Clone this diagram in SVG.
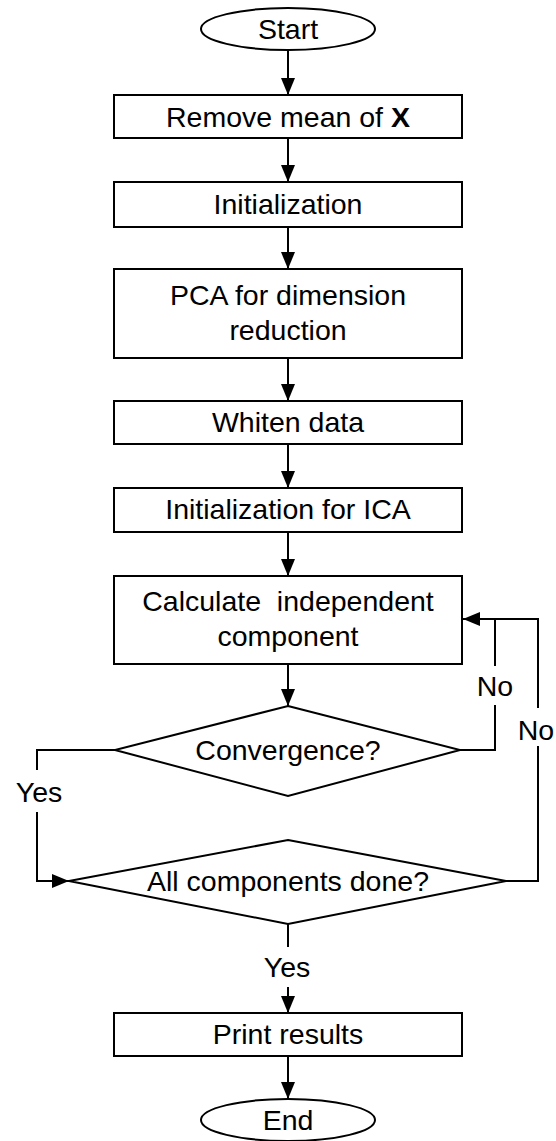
<svg xmlns="http://www.w3.org/2000/svg" width="556" height="1141" viewBox="0 0 556 1141">
<style>
.n{fill:#fff;stroke:#000;stroke-width:2}
.t{font-family:"Liberation Sans",Arial,sans-serif;font-size:28.5px;fill:#000;text-anchor:middle}
.c{fill:none;stroke:#000;stroke-width:2}
</style>
<defs>
<marker id="ah" viewBox="0 0 17 14" refX="17" refY="7" markerWidth="17" markerHeight="14" markerUnits="userSpaceOnUse" orient="auto">
<path d="M0,0 L17,7 L0,14 Z" fill="#000"/>
</marker>
</defs>
<rect width="556" height="1141" fill="#fff"/>
<g id="connectors">
<line class="c" x1="288" y1="50" x2="288" y2="95" marker-end="url(#ah)"/>
<line class="c" x1="288" y1="138" x2="288" y2="182" marker-end="url(#ah)"/>
<line class="c" x1="288" y1="227" x2="288" y2="269" marker-end="url(#ah)"/>
<line class="c" x1="288" y1="358" x2="288" y2="401" marker-end="url(#ah)"/>
<line class="c" x1="288" y1="444" x2="288" y2="488" marker-end="url(#ah)"/>
<line class="c" x1="288" y1="532" x2="288" y2="576" marker-end="url(#ah)"/>
<line class="c" x1="288" y1="664" x2="288" y2="706" marker-end="url(#ah)"/>
<path class="c" d="M460,750 H495 V705"/>
<path class="c" d="M495,666 V619"/>
<path class="c" d="M506,881 H538 V746"/>
<path class="c" d="M538,708 V619 H463" marker-end="url(#ah)"/>
<path class="c" d="M115,750 H37 V770"/>
<path class="c" d="M37,812 V881 H69" marker-end="url(#ah)"/>
<path class="c" d="M288,924 V947"/>
<path class="c" d="M288,987 V1013" marker-end="url(#ah)"/>
<line class="c" x1="288" y1="1056" x2="288" y2="1099" marker-end="url(#ah)"/>
<text class="t" x="495" y="696">No</text>
<text class="t" x="536" y="740">No</text>
<text class="t" x="39" y="802">Yes</text>
<text class="t" x="287" y="977">Yes</text>
</g>
<g id="start">
<ellipse class="n" cx="288" cy="29" rx="87" ry="21"/>
<text class="t" x="288" y="39">Start</text>
</g>
<g id="remove-mean">
<rect class="n" x="114" y="95" width="348" height="43"/>
<text class="t" x="288" y="127">Remove mean of <tspan font-weight="bold">X</tspan></text>
</g>
<g id="init">
<rect class="n" x="114" y="182" width="348" height="45"/>
<text class="t" x="288" y="214">Initialization</text>
</g>
<g id="pca">
<rect class="n" x="114" y="269" width="348" height="89"/>
<text class="t" x="288" y="305">PCA for dimension</text>
<text class="t" x="288" y="340">reduction</text>
</g>
<g id="whiten">
<rect class="n" x="114" y="401" width="348" height="43"/>
<text class="t" x="288" y="432">Whiten data</text>
</g>
<g id="init-ica">
<rect class="n" x="114" y="488" width="348" height="44"/>
<text class="t" x="288" y="519">Initialization for ICA</text>
</g>
<g id="calc">
<rect class="n" x="114" y="576" width="348" height="88"/>
<text class="t" x="288" y="611" xml:space="preserve">Calculate  independent</text>
<text class="t" x="288" y="646">component</text>
</g>
<g id="convergence">
<polygon class="n" points="288,706 460,750 288,796 115,750"/>
<text class="t" x="288" y="760">Convergence?</text>
</g>
<g id="all-done">
<polygon class="n" points="288,840 506,881 288,924 69,881"/>
<text class="t" x="288" y="891">All components done?</text>
</g>
<g id="print">
<rect class="n" x="114" y="1013" width="348" height="43"/>
<text class="t" x="288" y="1044">Print results</text>
</g>
<g id="end">
<ellipse class="n" cx="288" cy="1120" rx="87" ry="21"/>
<text class="t" x="288" y="1130">End</text>
</g>
</svg>
